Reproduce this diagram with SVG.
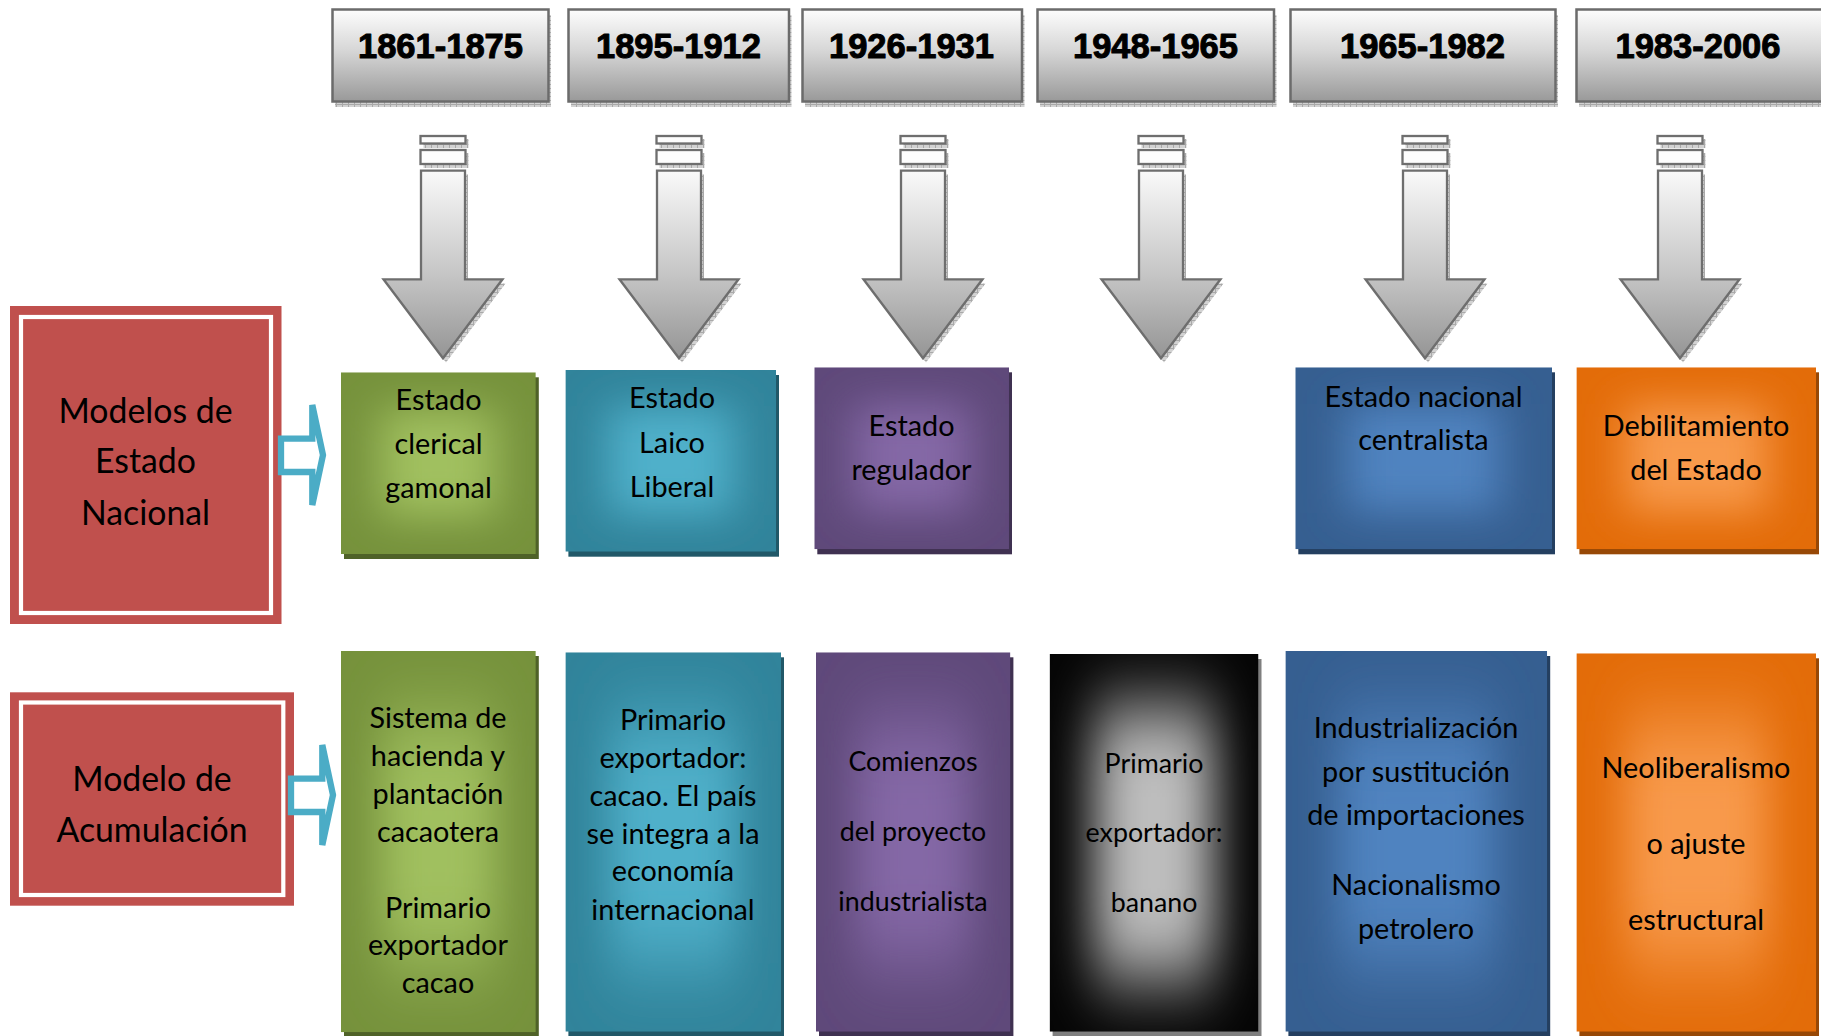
<svg xmlns="http://www.w3.org/2000/svg" width="1821" height="1036" viewBox="0 0 1821 1036">
<style>
.yr{fill:url(#gYear);stroke:#6b6b6b;stroke-width:2.5}
.ysh{fill:url(#hatch)}
.yt{font-family:"Liberation Sans",Arial,sans-serif;font-weight:bold;font-size:34.5px;text-anchor:middle;fill:#000;stroke:#000;stroke-width:1;stroke-linejoin:round}
.ar{fill:url(#gArrow);stroke:#6e6e6e;stroke-width:2.3}
.arr{fill:#fdfdfd;stroke:#6e6e6e;stroke-width:2.3}
.ash{fill:url(#hatch)}
.t{font-family:Lato,"Liberation Sans",sans-serif;font-size:28.8px;text-anchor:middle;fill:#000}
.ts{font-family:Lato,"Liberation Sans",sans-serif;font-size:26.8px;text-anchor:middle;fill:#000}
.tr{font-family:Lato,"Liberation Sans",sans-serif;font-size:33.8px;text-anchor:middle;fill:#000}
.red{fill:#c0504d}
.redin{fill:none;stroke:#fff;stroke-width:4.2}
.barrow{fill:#fff;stroke:#4bacc6;stroke-width:6.3}
</style>
<defs>
<linearGradient id="gYear" x1="0" y1="0" x2="0" y2="1">
<stop offset="0" stop-color="#fdfdfd"/>
<stop offset="0.45" stop-color="#d6d6d6"/>
<stop offset="1" stop-color="#999999"/>
</linearGradient>
<linearGradient id="gArrow" gradientUnits="userSpaceOnUse" x1="0" y1="170" x2="0" y2="358">
<stop offset="0" stop-color="#fafafa"/>
<stop offset="0.55" stop-color="#c6c6c6"/>
<stop offset="1" stop-color="#959595"/>
</linearGradient>
<pattern id="hatch" width="6" height="4" patternUnits="userSpaceOnUse">
<rect width="6" height="4" fill="#d2d2d2"/>
<path d="M0 0.5H6M0.5 0V4" stroke="#a9a9a9" stroke-width="1"/>
</pattern>
<filter id="glowS" x="-60%" y="-60%" width="220%" height="220%">
<feGaussianBlur stdDeviation="22 20"/>
</filter>
<filter id="glowT" x="-60%" y="-60%" width="220%" height="220%">
<feGaussianBlur stdDeviation="22 40"/>
</filter>
<filter id="glowG" x="-60%" y="-60%" width="220%" height="220%">
<feGaussianBlur stdDeviation="24 38"/>
</filter>
</defs>

<!-- Year header nodes -->
<g id="year-1861-1875">
<rect class="ysh" x="335" y="15" width="216" height="92"/>
<rect class="yr" x="332.5" y="9.5" width="216" height="92"/>
<text class="yt" x="440.5" y="58">1861-1875</text>
</g>
<g id="year-1895-1912">
<rect class="ysh" x="571" y="15" width="220.5" height="92"/>
<rect class="yr" x="568.5" y="9.5" width="220.5" height="92"/>
<text class="yt" x="678.5" y="58">1895-1912</text>
</g>
<g id="year-1926-1931">
<rect class="ysh" x="805" y="15" width="219.5" height="92"/>
<rect class="yr" x="802.5" y="9.5" width="219.5" height="92"/>
<text class="yt" x="911.5" y="58">1926-1931</text>
</g>
<g id="year-1948-1965">
<rect class="ysh" x="1040" y="15" width="236.5" height="92"/>
<rect class="yr" x="1037.5" y="9.5" width="236.5" height="92"/>
<text class="yt" x="1155.5" y="58">1948-1965</text>
</g>
<g id="year-1965-1982">
<rect class="ysh" x="1293" y="15" width="265" height="92"/>
<rect class="yr" x="1290.5" y="9.5" width="265" height="92"/>
<text class="yt" x="1422.5" y="58">1965-1982</text>
</g>
<g id="year-1983-2006">
<rect class="ysh" x="1579" y="15" width="250" height="92"/>
<rect class="yr" x="1576.5" y="9.5" width="250" height="92"/>
<text class="yt" x="1698" y="58">1983-2006</text>
</g>

<!-- Connectors: grey down arrows and blue block arrows -->
<g id="connectors">
<g id="arrow-1" transform="translate(443,0)">
<rect class="ash" x="-19.5" y="139" width="45" height="9"/>
<rect class="ash" x="-19.5" y="153" width="45" height="15"/>
<path class="ash" d="M-19,174.5 H25 V283.5 H62.5 L3,362.5 L-56.5,283.5 H-19 Z"/>
<rect class="arr" x="-22.5" y="136" width="45" height="7.5"/>
<rect class="arr" x="-22.5" y="150" width="45" height="14"/>
<path class="ar" d="M-22,170.7 H22 V279.3 H59.5 L0,358.3 L-59.5,279.3 H-22 Z"/>
</g>
<g id="arrow-2" transform="translate(679,0)">
<rect class="ash" x="-19.5" y="139" width="45" height="9"/>
<rect class="ash" x="-19.5" y="153" width="45" height="15"/>
<path class="ash" d="M-19,174.5 H25 V283.5 H62.5 L3,362.5 L-56.5,283.5 H-19 Z"/>
<rect class="arr" x="-22.5" y="136" width="45" height="7.5"/>
<rect class="arr" x="-22.5" y="150" width="45" height="14"/>
<path class="ar" d="M-22,170.7 H22 V279.3 H59.5 L0,358.3 L-59.5,279.3 H-22 Z"/>
</g>
<g id="arrow-3" transform="translate(923,0)">
<rect class="ash" x="-19.5" y="139" width="45" height="9"/>
<rect class="ash" x="-19.5" y="153" width="45" height="15"/>
<path class="ash" d="M-19,174.5 H25 V283.5 H62.5 L3,362.5 L-56.5,283.5 H-19 Z"/>
<rect class="arr" x="-22.5" y="136" width="45" height="7.5"/>
<rect class="arr" x="-22.5" y="150" width="45" height="14"/>
<path class="ar" d="M-22,170.7 H22 V279.3 H59.5 L0,358.3 L-59.5,279.3 H-22 Z"/>
</g>
<g id="arrow-4" transform="translate(1161,0)">
<rect class="ash" x="-19.5" y="139" width="45" height="9"/>
<rect class="ash" x="-19.5" y="153" width="45" height="15"/>
<path class="ash" d="M-19,174.5 H25 V283.5 H62.5 L3,362.5 L-56.5,283.5 H-19 Z"/>
<rect class="arr" x="-22.5" y="136" width="45" height="7.5"/>
<rect class="arr" x="-22.5" y="150" width="45" height="14"/>
<path class="ar" d="M-22,170.7 H22 V279.3 H59.5 L0,358.3 L-59.5,279.3 H-22 Z"/>
</g>
<g id="arrow-5" transform="translate(1425,0)">
<rect class="ash" x="-19.5" y="139" width="45" height="9"/>
<rect class="ash" x="-19.5" y="153" width="45" height="15"/>
<path class="ash" d="M-19,174.5 H25 V283.5 H62.5 L3,362.5 L-56.5,283.5 H-19 Z"/>
<rect class="arr" x="-22.5" y="136" width="45" height="7.5"/>
<rect class="arr" x="-22.5" y="150" width="45" height="14"/>
<path class="ar" d="M-22,170.7 H22 V279.3 H59.5 L0,358.3 L-59.5,279.3 H-22 Z"/>
</g>
<g id="arrow-6" transform="translate(1680,0)">
<rect class="ash" x="-19.5" y="139" width="45" height="9"/>
<rect class="ash" x="-19.5" y="153" width="45" height="15"/>
<path class="ash" d="M-19,174.5 H25 V283.5 H62.5 L3,362.5 L-56.5,283.5 H-19 Z"/>
<rect class="arr" x="-22.5" y="136" width="45" height="7.5"/>
<rect class="arr" x="-22.5" y="150" width="45" height="14"/>
<path class="ar" d="M-22,170.7 H22 V279.3 H59.5 L0,358.3 L-59.5,279.3 H-22 Z"/>
</g>
</g>

<!-- Row labels -->
<g id="label-estado">
<rect class="red" x="10" y="306" width="271.5" height="318"/>
<rect class="redin" x="21" y="317" width="250" height="296"/>
<text class="tr" x="145.5" y="423">Modelos de</text>
<text class="tr" x="145.5" y="473">Estado</text>
<text class="tr" x="145.5" y="525">Nacional</text>
</g>
<g id="label-acumulacion">
<rect class="red" x="10" y="692.3" width="284" height="213.4"/>
<rect class="redin" x="21" y="702.5" width="262.3" height="192.5"/>
<text class="tr" x="152" y="790.5">Modelo de</text>
<text class="tr" x="152" y="841.5">Acumulación</text>
</g>

<g id="block-arrows">
<path class="barrow" d="M281,438.7 H312.3 V405 L323,455 L312.3,505 V472 H281 Z"/>
<path class="barrow" d="M291,778.7 H322.3 V745 L333,795 L322.3,845 V812 H291 Z"/>
</g>

<!-- Row 1: Modelos de Estado Nacional -->
<g id="estado-1">
<rect x="344" y="377.3" width="194.8" height="181.7" fill="#4f6228"/>
<svg x="341" y="372.3" width="194.8" height="181.7"><rect width="100%" height="100%" fill="#76923c"/><rect x="20%" y="20%" width="60%" height="60%" fill="#a0c05e" filter="url(#glowS)"/></svg>
<text class="t" x="438.5" y="410">Estado</text>
<text class="t" x="438.5" y="454">clerical</text>
<text class="t" x="438.5" y="498">gamonal</text>
</g>
<g id="estado-2">
<rect x="568.4" y="375" width="210.6" height="181.7" fill="#215868"/>
<svg x="565.4" y="370" width="210.6" height="181.7"><rect width="100%" height="100%" fill="#31849b"/><rect x="20%" y="20%" width="60%" height="60%" fill="#4fb0ca" filter="url(#glowS)"/></svg>
<text class="t" x="672" y="408">Estado</text>
<text class="t" x="672" y="452.5">Laico</text>
<text class="t" x="672" y="496.5">Liberal</text>
</g>
<g id="estado-3">
<rect x="817.3" y="372.3" width="194.7" height="182" fill="#3f3151"/>
<svg x="814.3" y="367.3" width="194.7" height="182"><rect width="100%" height="100%" fill="#5f497a"/><rect x="20%" y="20%" width="60%" height="60%" fill="#8468a6" filter="url(#glowS)"/></svg>
<text class="t" x="911.5" y="436">Estado</text>
<text class="t" x="911.5" y="479.5">regulador</text>
</g>
<g id="estado-5">
<rect x="1298.3" y="372.3" width="256.7" height="182" fill="#243f60"/>
<svg x="1295.3" y="367.3" width="256.7" height="182"><rect width="100%" height="100%" fill="#365f91"/><rect x="20%" y="20%" width="60%" height="60%" fill="#5083c0" filter="url(#glowS)"/></svg>
<text class="t" x="1423.5" y="406.5">Estado nacional</text>
<text class="t" x="1423.5" y="450">centralista</text>
</g>
<g id="estado-6">
<rect x="1579.4" y="372.3" width="239.6" height="182" fill="#974806"/>
<svg x="1576.4" y="367.3" width="239.6" height="182"><rect width="100%" height="100%" fill="#e36c09"/><rect x="20%" y="20%" width="60%" height="60%" fill="#f89a4c" filter="url(#glowS)"/></svg>
<text class="t" x="1696" y="436">Debilitamiento</text>
<text class="t" x="1696" y="479.5">del Estado</text>
</g>

<!-- Row 2: Modelo de Acumulación -->
<g id="acum-1">
<rect x="344" y="656" width="194.8" height="381.3" fill="#4f6228"/>
<svg x="341" y="651" width="194.8" height="381.3"><rect width="100%" height="100%" fill="#76923c"/><rect x="20%" y="18%" width="60%" height="64%" fill="#a0c05e" filter="url(#glowT)"/></svg>
<text class="t" x="438" y="728">Sistema de</text>
<text class="t" x="438" y="766">hacienda y</text>
<text class="t" x="438" y="803.5">plantación</text>
<text class="t" x="438" y="841.5">cacaotera</text>
<text class="t" x="438" y="917.5">Primario</text>
<text class="t" x="438" y="955">exportador</text>
<text class="t" x="438" y="993">cacao</text>
</g>
<g id="acum-2">
<rect x="568.4" y="657.3" width="215.6" height="379.4" fill="#215868"/>
<svg x="565.4" y="652.3" width="215.6" height="379.4"><rect width="100%" height="100%" fill="#31849b"/><rect x="20%" y="18%" width="60%" height="64%" fill="#4fb0ca" filter="url(#glowT)"/></svg>
<text class="t" x="673" y="730">Primario</text>
<text class="t" x="673" y="768">exportador:</text>
<text class="t" x="673" y="805.5">cacao. El país</text>
<text class="t" x="673" y="843.5">se integra a la</text>
<text class="t" x="673" y="881">economía</text>
<text class="t" x="673" y="919.5">internacional</text>
</g>
<g id="acum-3">
<rect x="819" y="657.3" width="194.4" height="379.4" fill="#3f3151"/>
<svg x="816" y="652.3" width="194.4" height="379.4"><rect width="100%" height="100%" fill="#5f497a"/><rect x="20%" y="18%" width="60%" height="64%" fill="#8468a6" filter="url(#glowT)"/></svg>
<text class="ts" x="913" y="771">Comienzos</text>
<text class="ts" x="913" y="841">del proyecto</text>
<text class="ts" x="913" y="911">industrialista</text>
</g>
<g id="acum-4">
<rect x="1052.6" y="659" width="208.9" height="377.7" fill="#7f7f7f"/>
<svg x="1049.6" y="654" width="208.9" height="377.7"><rect width="100%" height="100%" fill="#050505"/><rect x="21%" y="14%" width="58%" height="72%" fill="#bdbdbd" filter="url(#glowG)"/></svg>
<text class="ts" x="1154" y="772.5">Primario</text>
<text class="ts" x="1154" y="841.5">exportador:</text>
<text class="ts" x="1154" y="912">banano</text>
</g>
<g id="acum-5">
<rect x="1288.4" y="656" width="261.8" height="380.7" fill="#243f60"/>
<svg x="1285.4" y="651" width="261.8" height="380.7"><rect width="100%" height="100%" fill="#365f91"/><rect x="20%" y="18%" width="60%" height="64%" fill="#5083c0" filter="url(#glowT)"/></svg>
<text class="t" x="1416" y="738">Industrialización</text>
<text class="t" x="1416" y="781.5">por sustitución</text>
<text class="t" x="1416" y="824.5">de importaciones</text>
<text class="t" x="1416" y="895">Nacionalismo</text>
<text class="t" x="1416" y="938.5">petrolero</text>
</g>
<g id="acum-6">
<rect x="1579.4" y="658.3" width="239.6" height="378.4" fill="#974806"/>
<svg x="1576.4" y="653.3" width="239.6" height="378.4"><rect width="100%" height="100%" fill="#e36c09"/><rect x="20%" y="18%" width="60%" height="64%" fill="#f89a4c" filter="url(#glowT)"/></svg>
<text class="t" x="1696" y="777.5">Neoliberalismo</text>
<text class="t" x="1696" y="853.5">o ajuste</text>
<text class="t" x="1696" y="930">estructural</text>
</g>
</svg>
